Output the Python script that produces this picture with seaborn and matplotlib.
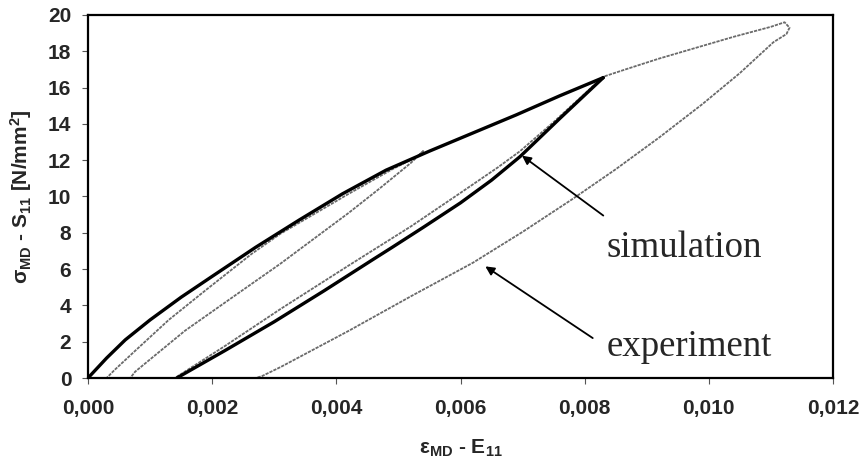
import matplotlib
matplotlib.use("Agg")
import matplotlib.pyplot as plt
import seaborn as sns
import pandas as pd

# --- simulation: loading branch (strain, stress in N/mm^2)
sim_load_strain = [0.0, 0.0003, 0.0006, 0.001, 0.0015, 0.002, 0.0027, 0.0034, 0.0041,
                   0.0048, 0.0055, 0.0062, 0.0069, 0.0076, 0.0083]
sim_load_stress = [0.0, 1.1, 2.1, 3.2, 4.45, 5.6, 7.2, 8.7, 10.15,
                   11.45, 12.5, 13.5, 14.5, 15.55, 16.55]

# --- simulation: unloading branch
sim_unload_strain = [0.0083, 0.0076, 0.00696, 0.0065, 0.006, 0.0054, 0.0049, 0.0046,
                     0.0038, 0.003, 0.0022, 0.00143]
sim_unload_stress = [16.55, 14.3, 12.2, 10.9, 9.65, 8.3, 7.2, 6.55,
                     4.8, 3.1, 1.5, 0.0]

# --- experiment: full measured load path (two cycles)
exp_strain = [0.0, 0.0003, 0.00043, 0.00076, 0.0013, 0.0019, 0.00264, 0.0031, 0.0042, 0.0049, 0.0053, 0.0054,
              0.0052, 0.0047, 0.0042, 0.00363, 0.0031, 0.00237, 0.00156, 0.00076, 0.00068,
              0.0014, 0.0022, 0.0031, 0.0042, 0.0052, 0.006, 0.0066, 0.00696, 0.0075, 0.0083,
              0.0087, 0.0092, 0.0098, 0.0104, 0.0110, 0.01122, 0.0113, 0.01125,
              0.01104, 0.0105, 0.0099, 0.0092, 0.0085, 0.0078, 0.0070, 0.0062,
              0.0052, 0.0042, 0.0031, 0.0028, 0.0027]
exp_stress = [0.0, 0.0, 0.45, 1.5, 3.2, 4.85, 6.85, 7.95, 10.15, 11.5, 12.2, 12.5,
              11.85, 10.45, 9.1, 7.65, 6.3, 4.55, 2.6, 0.35, 0.0,
              0.0, 1.75, 3.8, 6.2, 8.35, 10.2, 11.6, 12.5, 14.1, 16.6,
              17.05, 17.6, 18.2, 18.8, 19.35, 19.6, 19.3, 18.95,
              18.5, 16.8, 15.1, 13.25, 11.5, 9.85, 8.05, 6.35,
              4.5, 2.6, 0.6, 0.1, 0.0]

# --- axis ticks
x_ticks = [0.0, 0.002, 0.004, 0.006, 0.008, 0.010, 0.012]
x_tick_labels = ["0,000", "0,002", "0,004", "0,006", "0,008", "0,010", "0,012"]
y_ticks = [0, 2, 4, 6, 8, 10, 12, 14, 16, 18, 20]

# --- annotation labels: (text, arrow tip, arrow tail, text anchor)
sim_label = "simulation"
sim_tip = (0.00699, 12.25)
sim_tail = (0.0083, 8.95)
sim_text_at = (0.00835, 6.67)

exp_label = "experiment"
exp_tip = (0.0064, 6.15)
exp_tail = (0.00813, 2.2)
exp_text_at = (0.00835, 1.19)

sns.set_theme(style="white")
plt.rcParams["font.family"] = ["Liberation Sans", "DejaVu Sans"]
plt.rcParams["font.weight"] = "bold"
plt.rcParams["mathtext.fontset"] = "custom"
plt.rcParams["mathtext.rm"] = "Liberation Sans:bold"
plt.rcParams["mathtext.it"] = "Liberation Sans:bold"
plt.rcParams["mathtext.bf"] = "Liberation Sans:bold"

fig = plt.figure(figsize=(8.64, 4.67), dpi=100)
ax = fig.add_axes([88 / 864, 1 - 378 / 467, 745 / 864, 363 / 467])

df_exp = pd.DataFrame({"strain": exp_strain, "stress": exp_stress})
df_load = pd.DataFrame({"strain": sim_load_strain, "stress": sim_load_stress})
df_unload = pd.DataFrame({"strain": sim_unload_strain, "stress": sim_unload_stress})

sns.lineplot(data=df_exp, x="strain", y="stress", sort=False, estimator=None, ax=ax,
             color="#6a6a6a", lw=1.3, linestyle=(0, (1.8, 0.6)), legend=False)
for df in (df_load, df_unload):
    sns.lineplot(data=df, x="strain", y="stress", sort=False, estimator=None, ax=ax,
                 color="black", lw=2.4, legend=False)

ax.set_xlim(0, 0.012)
ax.set_ylim(0, 20)
ax.set_xticks(x_ticks)
ax.set_xticklabels(x_tick_labels)
ax.set_yticks(y_ticks)
ax.tick_params(axis="both", which="major", direction="out", length=4, width=0.8,
               color="#555555", labelsize=15, bottom=True, left=True)
ax.tick_params(axis="x", pad=11)
ax.tick_params(axis="y", pad=8)
for lab in ax.get_xticklabels() + ax.get_yticklabels():
    lab.set_fontweight("bold")

for side in ("left", "right", "top", "bottom"):
    ax.spines[side].set_visible(True)
    ax.spines[side].set_color("black")
    ax.spines[side].set_linewidth(1.6)

ax.set_xlabel(r"ε$_{\mathrm{MD}}$ - E$_{11}$", fontsize=15, fontweight="bold")
ax.set_ylabel(r"σ$_{\mathrm{MD}}$ - S$_{11}$ [N/mm$^{2}$]", fontsize=15, fontweight="bold")
ax.xaxis.set_label_coords(0.5, -0.165)
ax.yaxis.set_label_coords(-0.072, 0.5)

arrow_kw = dict(arrowstyle="-|>", color="black", lw=1.3, mutation_scale=13,
                shrinkA=0, shrinkB=0)
ax.annotate("", xy=sim_tip, xytext=sim_tail, arrowprops=arrow_kw)
ax.annotate("", xy=exp_tip, xytext=exp_tail, arrowprops=arrow_kw)
ax.text(*sim_text_at, sim_label, family="Liberation Serif", fontweight="normal",
        fontsize=26.5, ha="left", va="baseline")
ax.text(*exp_text_at, exp_label, family="Liberation Serif", fontweight="normal",
        fontsize=26.5, ha="left", va="baseline")

fig.savefig("out.png", dpi=100, facecolor="white")
